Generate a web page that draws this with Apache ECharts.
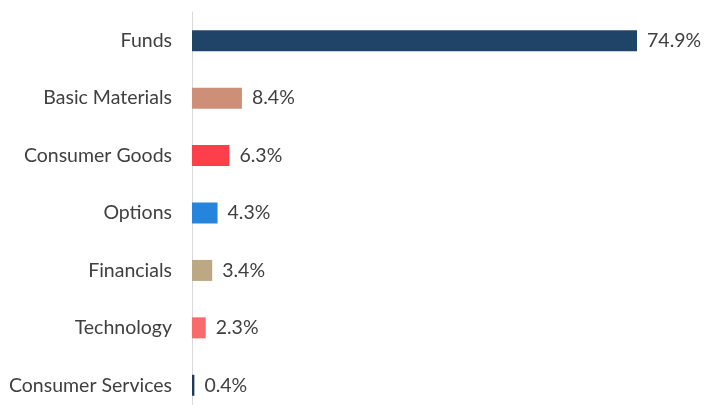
<!DOCTYPE html>
<html><head><meta charset="utf-8">
<script src="https://cdn.jsdelivr.net/npm/echarts@6/dist/echarts.min.js"></script>
<style>html,body{margin:0;padding:0;background:#fff}#c{width:706px;height:405px}</style>
</head><body><div id="c"></div>
<script>
const categories = ["Funds","Basic Materials","Consumer Goods","Options","Financials","Technology","Consumer Services"];
const values = [74.9, 8.4, 6.3, 4.3, 3.4, 2.3, 0.4];
const colors = ["#1f4468","#cd8f78","#fc3f4a","#2684dc","#bda884","#fb6a6a","#1e3a5a"];
const chart = echarts.init(document.getElementById('c'), null, {renderer:'canvas'});
chart.setOption({
  animation:false,
  grid:{left:192, width:445.6, top:12, height:402, containLabel:false, outerBoundsMode:'none'},
  xAxis:{type:'value', min:0, max:75, show:false},
  yAxis:{type:'category', inverse:true, data:categories,
    axisLine:{show:true, lineStyle:{color:'#d9d9d9', width:1}},
    axisTick:{show:false},
    axisLabel:{color:'#404040', fontFamily:'Lato', fontSize:19.5, margin:20}},
  series:[{type:'bar', barWidth:21,
    data: values.map((v,i)=>({value:v, itemStyle:{color:colors[i]}})),
    label:{show:true, position:'right', distance:10, color:'#404040', fontFamily:'Lato', fontSize:19.5,
      formatter:p=>p.value.toFixed(1)+'%'}}]
});
</script></body></html>
